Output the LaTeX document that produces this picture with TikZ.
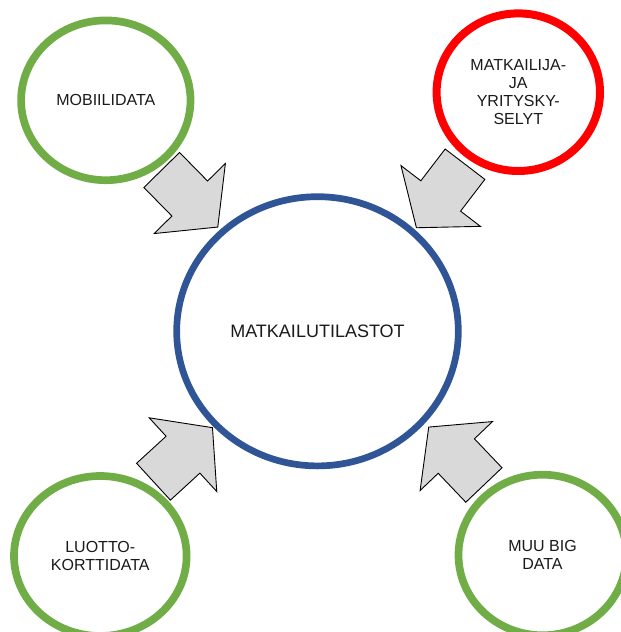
\documentclass[tikz,border=0pt]{standalone}
\usepackage{fontspec}
\setmainfont{Liberation Sans}
\usetikzlibrary{shapes.geometric}

\definecolor{ringgreen}{HTML}{70AD47}
\definecolor{ringred}{HTML}{FF0000}
\definecolor{ringblue}{HTML}{2F5597}
\definecolor{arrowgray}{HTML}{D9D9D9}
\definecolor{labelgray}{HTML}{1A1A1A}

\begin{document}
\begin{tikzpicture}[x=1pt, y=-1pt,
  ring/.style={ellipse, inner sep=0pt, align=center, text=labelgray,
    font=\fontsize{16}{18}\selectfont},
  sourcering/.style={ring, draw=ringgreen, line width=7.7pt},
  surveyring/.style={ring, draw=ringred, line width=8pt},
  mainring/.style={ring, draw=ringblue, line width=6.7pt,
    font=\fontsize{18}{20}\selectfont},
  blockarrow/.style={draw=black, line width=0.9pt, fill=arrowgray, line join=miter},
  inflow/.pic={\draw[blockarrow] (0,25) -- (40,25) -- (40,50) -- (80,0)
      -- (40,-50) -- (40,-25) -- (0,-25) -- cycle;},
]
\clip (0,0) rectangle (621,632);

% block arrows pointing from each source towards the centre
\pic[rotate=-45.5]  at (161.7,170.0) {inflow};
\pic[rotate=-127.4] at (465.0,164.2) {inflow};
\pic[rotate=42.5]   at (153.5,481.7) {inflow};
\pic[rotate=133.6]  at (483.9,485.0) {inflow};

% data sources and the statistics they feed
\node[mainring, minimum width=281.6pt, minimum height=269.2pt] (stats)
  at (317.5,331.3) {MATKAILUTILASTOT};
\node[sourcering, minimum width=169.4pt, minimum height=159.8pt] (mobile)
  at (105.8,100.3) {MOBIILIDATA};
\node[surveyring, minimum width=163.4pt, minimum height=157.6pt] (survey)
  at (518.3,92.2) {MATKAILIJA-\\JA\\YRITYSKY-\\SELYT};
\node[sourcering, minimum width=172.6pt, minimum height=160pt] (card)
  at (100.3,556.0) {LUOTTO-\\KORTTIDATA};
\node[sourcering, minimum width=168pt, minimum height=160.6pt] (bigdata)
  at (542.5,555.0) {MUU BIG\\DATA};
\end{tikzpicture}
\end{document}
